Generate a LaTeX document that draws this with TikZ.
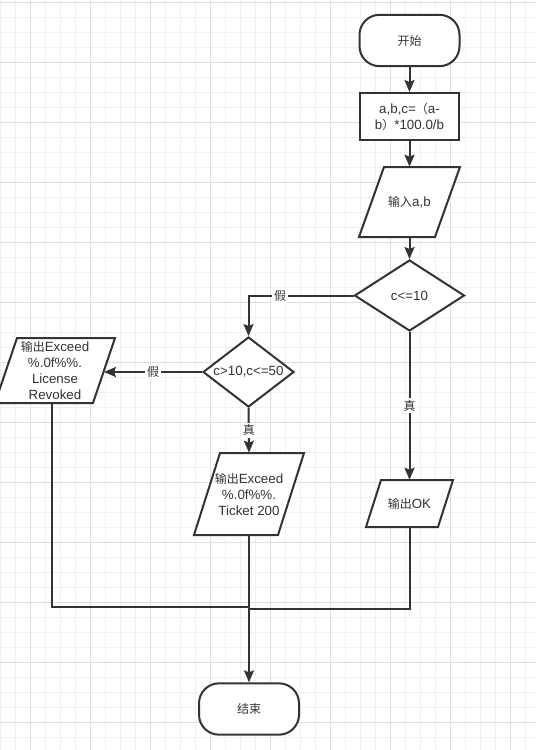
\documentclass[tikz,border=0pt]{standalone}
\usepackage{fontspec}
\setmainfont{Liberation Sans}
\newfontfamily\cjk[Scale=0.9]{Noto Sans CJK SC}
\usetikzlibrary{shapes.geometric,arrows.meta,calc}
\definecolor{ink}{HTML}{333333}
\definecolor{gridminor}{HTML}{F0F0F0}
\definecolor{gridmajor}{HTML}{DEDEDE}
\newcommand{\drawpara}[7]{%
  \path[parashape] (#2-#4/2+#6, #3-#5/2) -- (#2+#4/2, #3-#5/2) -- (#2+#4/2-#6, #3+#5/2) -- (#2-#4/2, #3+#5/2) -- cycle;
  \node[paratext, minimum width=#4*0.75pt, minimum height=#5*0.75pt] (#1) at (#2,#3) {#7};
}
\begin{document}
\begin{tikzpicture}[x=0.75pt,y=-0.75pt,
  txt/.style={text=ink, font=\fontsize{10}{12}\selectfont, align=center},
  box/.style={draw=ink, line width=1.5pt, fill=white, txt, inner sep=0pt},
  term/.style={box, rounded corners=15pt, minimum width=75pt, minimum height=38.5pt},
  procbox/.style={box, minimum width=74.25pt, minimum height=35.25pt},
  dec/.style={box, shape=diamond},
  parashape/.style={draw=ink, line width=1.5pt, fill=white, line join=miter},
  paratext/.style={txt, draw=none, inner sep=0pt},
  lbl/.style={txt, fill=white, inner sep=1.5pt},
  conn/.style={draw=ink, line width=1.5pt},
  arr/.style={conn, -{Stealth[length=9pt, width=7.5pt, inset=1.5pt]}}
]
\useasboundingbox (0,0) rectangle (536,750);
\fill[white] (0,0) rectangle (536,750);
% grid
\foreach \gx in {0,15,...,536} \draw[gridminor, line width=0.75pt] (\gx,0) -- (\gx,750);
\foreach \gy in {2,17,...,750} \draw[gridminor, line width=0.75pt] (0,\gy) -- (536,\gy);
\foreach \gx in {30,90,...,536} \draw[gridmajor, line width=0.75pt] (\gx,0) -- (\gx,750);
\foreach \gy in {2,62,...,750} \draw[gridmajor, line width=0.75pt] (0,\gy) -- (536,\gy);

% nodes
\node[term] (start) at (409.5,40.5) {{\cjk 开始}};
\node[procbox] (proc) at (409.5,116.5) {a,b,c={\cjk （}a-\\b{\cjk ）}*100.0/b};
\drawpara{input}{409.5}{202}{101}{70}{25}{{\cjk 输入}a,b}
\node[dec, minimum width=82.5pt, minimum height=53.25pt] (d1) at (409.5,295.5) {};
\node[txt] (d1t) at (d1.center) {c<=10};
\node[dec, minimum width=68.25pt, minimum height=52.5pt] (d2) at (248.5,372) {};
\node[txt] (d2t) at (d2.center) {c>10,c<=50};
\drawpara{ticket}{249}{494}{110}{82}{26}{{\cjk 输出}Exceed\\\%.0f\%\%.\\Ticket 200}
\drawpara{ok}{409.5}{503.5}{87}{47}{15}{{\cjk 输出}OK}
\drawpara{lic}{55}{370.5}{120}{65}{22}{{\cjk 输出}Exceed\\\%.0f\%\%.\\License\\Revoked}
\node[term] (end) at (249,709) {{\cjk 结束}};

% helper coordinates
\coordinate (licin) at (104,372);
\coordinate (licout) at (52,403);
\coordinate (joinL) at (249,607);
\coordinate (joinR) at (249,609);

% connectors
\draw[arr] (start.south) -- (proc.north);
\draw[arr] (proc.south) -- (input.north);
\draw[arr] (input.south) -- (d1.north);
\draw[arr] (d1.west) -| node[lbl, pos=0.35] {\cjk 假} (d2.north);
\draw[arr] (d1.south) -- node[lbl] {\cjk 真} (ok.north);
\draw[arr] (d2.south) -- node[lbl] {\cjk 真} (ticket.north);
\draw[arr] (d2.west) -- node[lbl] {\cjk 假} (licin);
\draw[conn] (licout) |- (joinL);
\draw[conn] (ok.south) |- (joinR);
\draw[arr] (ticket.south) -- (end.north);
\end{tikzpicture}
\end{document}
